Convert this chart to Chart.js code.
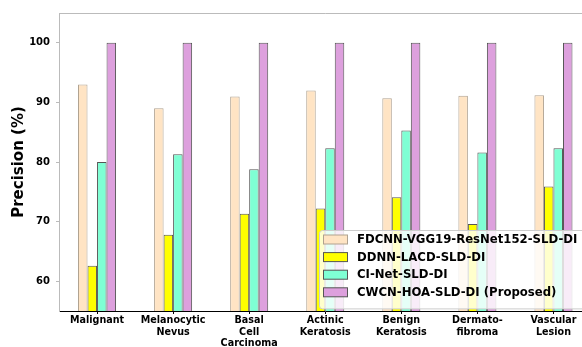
<!DOCTYPE html>
<html>
<head>
<meta charset="utf-8">
<script src="https://cdn.jsdelivr.net/npm/chart.js@4.4.1/dist/chart.umd.min.js"></script>
<style>
  html, body { margin: 0; padding: 0; background: #fff; overflow: hidden; }
  #wrap { width: 610px; height: 347px; }
</style>
</head>
<body>
<div id="wrap"><canvas id="precisionChart" width="610" height="347"></canvas></div>
<script>
const categories = [
    'Malignant',
    ['Melanocytic', 'Nevus'],
    ['Basal', 'Cell', 'Carcinoma'],
    ['Actinic', 'Keratosis'],
    ['Benign', 'Keratosis'],
    ['Dermato-', 'fibroma'],
    ['Vascular', 'Lesion']
];
const seriesNames = [
    'FDCNN-VGG19-ResNet152-SLD-DI',
    'DDNN-LACD-SLD-DI',
    'CI-Net-SLD-DI',
    'CWCN-HOA-SLD-DI (Proposed)'
];
const fdcnnValues = [93.0, 89.0, 91.0, 92.0, 90.7, 91.1, 91.2];
const ddnnValues = [62.6, 67.8, 71.3, 72.2, 74.1, 69.6, 75.9];
const ciNetValues = [80.0, 81.3, 78.8, 82.3, 85.3, 81.6, 82.3];
const cwcnValues = [100, 100, 100, 100, 100, 100, 100];
const yTicks = [60, 70, 80, 90, 100];

const fillColors = ['#FFE4C4', '#FFFF00', '#7FFFD4', '#DDA0DD'];
const edgeColors = ['#b0a290', '#555555', '#555555', '#555555'];
const fontFamily = "'DejaVu Sans', sans-serif";

// legend drawn inside the plot, bottom right, over the bars
const insideLegend = {
    id: 'insideLegend',
    afterDatasetsDraw(chart) {
        const ctx = chart.ctx;
        const boxX = 319, boxTop = 230, rowH = 17.6;
        ctx.save();
        ctx.font = "bold 11.7px " + fontFamily;
        let maxW = 0;
        chart.data.datasets.forEach(ds => {
            maxW = Math.max(maxW, ctx.measureText(ds.label).width);
        });
        const boxW = 38 + maxW + 14;
        const boxH = rowH * chart.data.datasets.length + 8;
        ctx.beginPath();
        ctx.roundRect(boxX + 0.5, boxTop + 0.5, boxW, boxH, 3);
        ctx.fillStyle = 'rgba(255,255,255,0.8)';
        ctx.fill();
        ctx.strokeStyle = '#cccccc';
        ctx.lineWidth = 1;
        ctx.stroke();

        chart.data.datasets.forEach((ds, i) => {
            const cy = boxTop + 9.5 + i * rowH;
            ctx.fillStyle = ds.backgroundColor;
            ctx.fillRect(boxX + 4.5, cy - 4.5, 24, 9);
            ctx.strokeStyle = ds.borderColor;
            ctx.strokeRect(boxX + 4.5, cy - 4.5, 24, 9);
            ctx.fillStyle = '#000';
            ctx.textBaseline = 'middle';
            ctx.textAlign = 'left';
            ctx.fillText(ds.label, boxX + 38, cy + 0.5);
        });
        ctx.restore();
    },
    afterDraw(chart) {
        // top spine
        const ctx = chart.ctx;
        const area = chart.chartArea;
        ctx.save();
        ctx.strokeStyle = '#bbbbbb';
        ctx.lineWidth = 1;
        ctx.beginPath();
        ctx.moveTo(area.left, area.top + 0.5);
        ctx.lineTo(area.right, area.top + 0.5);
        ctx.stroke();
        ctx.restore();
    }
};

const ctx = document.getElementById('precisionChart').getContext('2d');
const allValues = [fdcnnValues, ddnnValues, ciNetValues, cwcnValues];

new Chart(ctx, {
    type: 'bar',
    data: {
        labels: categories,
        datasets: allValues.map((vals, i) => ({
            label: seriesNames[i],
            data: vals,
            backgroundColor: fillColors[i],
            borderColor: edgeColors[i],
            borderWidth: 1,
            borderSkipped: 'start',
            categoryPercentage: 0.5,
            barPercentage: 1.0
        }))
    },
    options: {
        responsive: false,
        animation: false,
        devicePixelRatio: 1,
        layout: { padding: { left: 0, top: 13, right: 18.5, bottom: 0 } },
        plugins: {
            legend: { display: false },
            tooltip: { enabled: false }
        },
        scales: {
            x: {
                offset: true,
                grid: {
                    offset: false,
                    drawOnChartArea: false,
                    drawTicks: true,
                    tickLength: 3,
                    color: '#000'
                },
                border: { color: '#000', width: 1 },
                ticks: {
                    autoSkip: false,
                    maxRotation: 0,
                    minRotation: 0,
                    padding: 1,
                    color: '#000',
                    font: { family: fontFamily, size: 9.6, weight: 'bold', lineHeight: 1.2 }
                },
                afterFit(scale) { scale.height = 36; }
            },
            y: {
                min: 55,
                max: 105,
                grid: {
                    drawOnChartArea: false,
                    drawTicks: true,
                    tickLength: 3,
                    color: '#bbbbbb'
                },
                border: { color: '#bbbbbb', width: 1 },
                ticks: {
                    padding: 6,
                    color: '#000',
                    font: { family: fontFamily, size: 10, weight: 'bold' }
                },
                afterBuildTicks(scale) {
                    scale.ticks = yTicks.map(v => ({ value: v }));
                },
                title: {
                    display: true,
                    text: 'Precision (%)',
                    color: '#000',
                    font: { family: fontFamily, size: 15, weight: 'bold', lineHeight: 1.2 },
                    padding: { top: 10, bottom: 0 }
                },
                afterFit(scale) { scale.width = 59; }
            }
        }
    },
    plugins: [insideLegend]
});
</script>
</body>
</html>
